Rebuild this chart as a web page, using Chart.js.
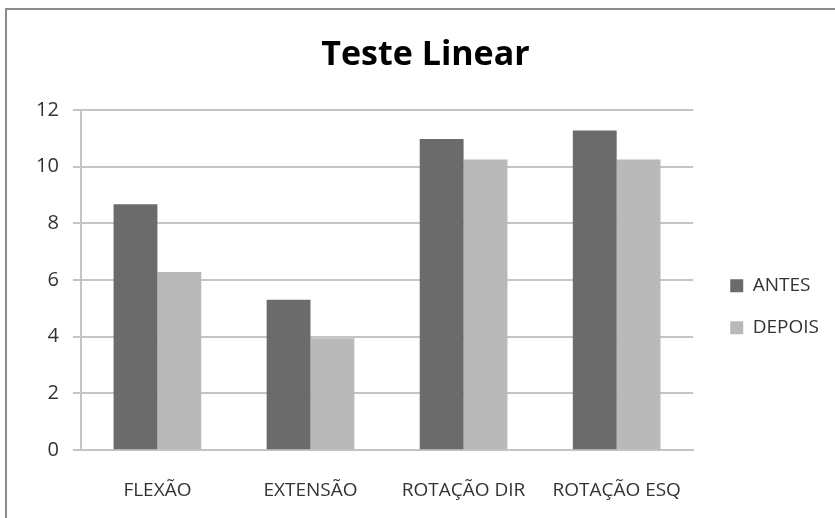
<!DOCTYPE html>
<html>
<head>
<meta charset="utf-8">
<script src="https://cdn.jsdelivr.net/npm/chart.js@4/dist/chart.umd.min.js"></script>
<style>
  html, body { margin: 0; padding: 0; background: #fff; }
  #wrap { position: relative; width: 835px; height: 518px; }
  #frame { position: absolute; left: 5px; top: 8px; right: -5px; bottom: -5px;
           border-left: 2px solid #8c8c8c; border-top: 2px solid #8c8c8c; }
  canvas { position: absolute; left: 0; top: 0; }
</style>
</head>
<body>
<div id="wrap">
  <div id="frame"></div>
  <canvas id="chart-teste" width="835" height="518"></canvas>
</div>
<script>
const categorias = ['FLEXÃO', 'EXTENSÃO', 'ROTAÇÃO DIR', 'ROTAÇÃO ESQ'];
const antes = [8.67, 5.3, 10.97, 11.27];
const depois = [6.28, 3.95, 10.25, 10.25];
const ticksY = { min: 0, max: 12, step: 2 };

const fonte = "'Open Sans', sans-serif";

new Chart(document.getElementById('chart-teste'), {
    type: 'bar',
    data: {
        labels: categorias,
        datasets: [{
            label: 'ANTES',
            data: antes,
            backgroundColor: '#6b6b6b',
            borderWidth: 0,
            barPercentage: 1,
            categoryPercentage: 0.573,
        }, {
            label: 'DEPOIS',
            data: depois,
            backgroundColor: '#b9b9b9',
            borderWidth: 0,
            barPercentage: 1,
            categoryPercentage: 0.573,
        }]
    },
    options: {
        responsive: false,
        animation: false,
        layout: {
            padding: { left: 22, right: 6, top: 0, bottom: -13 }
        },
        plugins: {
            title: {
                display: true,
                text: 'Teste Linear',
                color: '#000',
                font: { family: fonte, size: 34, weight: 'bold' },
                padding: { top: 35, bottom: 34 }
            },
            legend: {
                position: 'right',
                align: 'center',
                title: { display: true, text: ' ', padding: { top: 68, bottom: 0 } },
                labels: {
                    boxWidth: 13,
                    boxHeight: 13,
                    padding: 23,
                    color: '#333',
                    font: { family: fonte, size: 19 }
                }
            },
            tooltip: { enabled: false }
        },
        scales: {
            x: {
                grid: { display: false, drawTicks: false },
                border: { display: true, color: '#c4c4c4', width: 2 },
                ticks: {
                    color: '#333',
                    padding: 29,
                    font: { family: fonte, size: 19 }
                }
            },
            y: {
                min: ticksY.min,
                max: ticksY.max,
                ticks: {
                    stepSize: ticksY.step,
                    color: '#333',
                    padding: 14,
                    font: { family: fonte, size: 20 }
                },
                grid: { color: '#c4c4c4', lineWidth: 2, tickLength: 8 },
                border: { display: true, color: '#c4c4c4', width: 2 }
            },
            // empty axis on the right, only keeps a gap before the legend
            gap: {
                position: 'right',
                display: true,
                ticks: { display: false },
                grid: { display: false, drawTicks: false },
                border: { display: false },
                afterFit: (s) => { s.width = 14; }
            }
        }
    }
});
</script>
</body>
</html>
